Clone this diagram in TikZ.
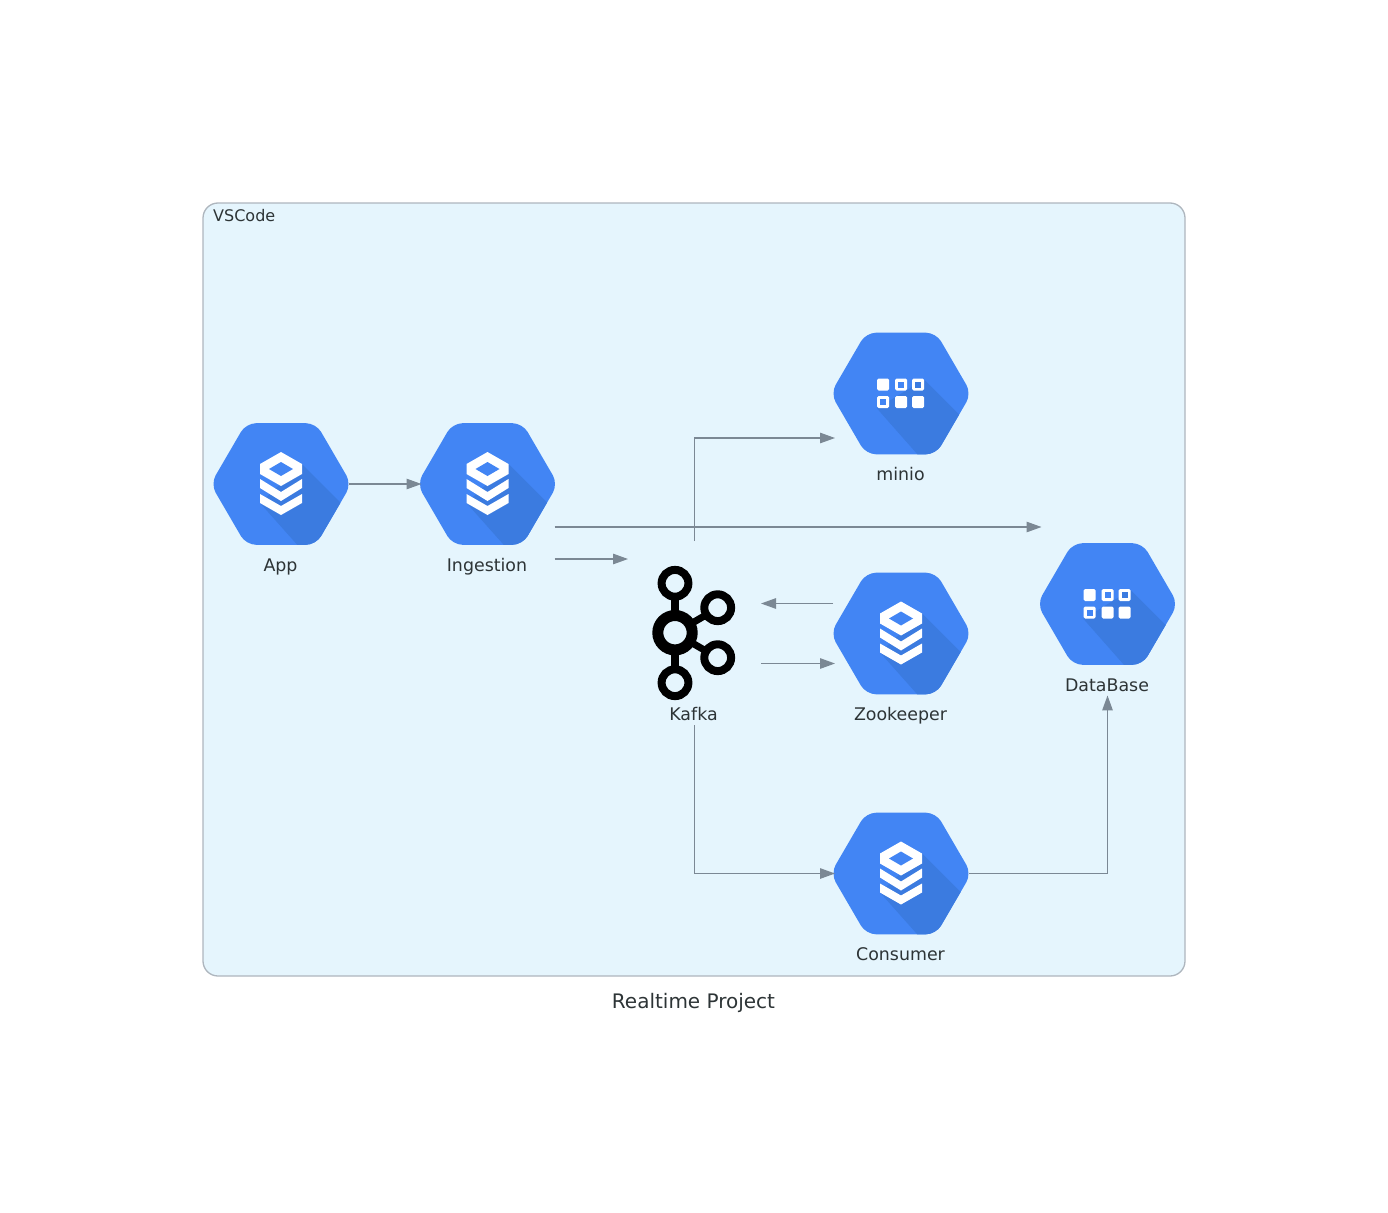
\documentclass[tikz,border=0pt]{standalone}
\usepackage{fontspec}
\setmainfont{DejaVu Sans}
\usetikzlibrary{arrows.meta, positioning}
\definecolor{gcpblue}{HTML}{4285F4}
\definecolor{gcpshade}{HTML}{3B7BE0}
\definecolor{clusterbg}{HTML}{E5F5FD}
\definecolor{clusterline}{HTML}{AEB6BE}
\definecolor{flowgray}{HTML}{7B8894}
\definecolor{labelgray}{HTML}{2D3436}

\tikzset{
  hexbox/.style={minimum width=136pt, minimum height=122pt, inner sep=0pt, outer sep=0pt},
  nodetext/.style={font=\fontsize{17.4}{20}\selectfont, text=labelgray, inner sep=0pt, anchor=base},
  flow/.style={draw=flowgray, line width=1.2pt, -{Triangle[length=15pt,width=10.5pt]}},
  kafkaring/.style={draw=black, line width=8pt},
}

% blue hexagon, its corner points
\newcommand{\hexpath}{(-70.4,0) -- (-35,-60.8) -- (35,-60.8) -- (70.4,0) -- (35,60.8) -- (-35,60.8) -- cycle}

% stack glyph, with its shadow
\newcommand{\stackglyph}{%
  \begin{scope}
    \clip[rounded corners=10pt] \hexpath;
    \fill[gcpshade] (21,-20) -- (80,39) -- (36,83) -- (-21,19) -- cycle;
  \end{scope}
  \fill[white] (0,-32) -- (21,-20) -- (21,-10) -- (0,2) -- (-21,-10) -- (-21,-20) -- cycle;
  \fill[gcpblue] (0,-22) -- (12,-15) -- (0,-8) -- (-12,-15) -- cycle;
  \fill[white] (-21,-5) -- (0,8) -- (21,-5) -- (21,4) -- (0,17) -- (-21,4) -- cycle;
  \fill[white] (-21,10) -- (0,22) -- (21,10) -- (21,19) -- (0,31) -- (-21,19) -- cycle;
}

% grid glyph, with its shadow
\newcommand{\gridglyph}{%
  \begin{scope}
    \clip[rounded corners=10pt] \hexpath;
    \fill[gcpshade] (23,-14) -- (80,43) -- (36,83) -- (-24,15) -- cycle;
  \end{scope}
  \fill[white, rounded corners=1.5pt] (-24,-15) rectangle (-12,-3);
  \fill[white, rounded corners=1.5pt] (-6,-15) rectangle (6,-3);
  \fill[white, rounded corners=1.5pt] (11,-15) rectangle (23,-3);
  \fill[white, rounded corners=1.5pt] (-24,2.5) rectangle (-12,14.5);
  \fill[white, rounded corners=1.5pt] (-6,2.5) rectangle (6,14.5);
  \fill[white, rounded corners=1.5pt] (11,2.5) rectangle (23,14.5);
  \fill[gcpblue] (-3,-12) rectangle (3,-6);
  \fill[gcpshade] (14,-12) rectangle (20,-6);
  \fill[gcpblue] (-21,5.5) rectangle (-15,11.5);
}

% #1 name, #2 position, #3 text, #4 glyph
\newcommand{\hexnode}[4]{%
  \node[hexbox] (#1) at (#2) {};
  \begin{scope}[shift={(#2)}]
    \fill[gcpblue, rounded corners=10pt] \hexpath;
    #4
    \node[nodetext] (#1text) at (-0.5,87) {#3};
  \end{scope}
}

\begin{document}
\begin{tikzpicture}[x=1pt, y=-1pt]
  \useasboundingbox (0,0) rectangle (1388,1212);

  % VSCode cluster
  \draw[clusterline, fill=clusterbg, line width=1.3pt, rounded corners=15pt]
    (203,203) rectangle (1185,976);
  \node[nodetext, anchor=base west, font=\fontsize{16}{19}\selectfont] (vscode) at (213,221) {VSCode};
  \node[nodetext, font=\fontsize{20}{24}\selectfont] (title) at (693.5,1008.5) {Realtime Project};

  % Hexagon nodes
  \hexnode{app}{281,484}{App}{\stackglyph}
  \hexnode{ingestion}{487.5,484}{Ingestion}{\stackglyph}
  \hexnode{minio}{901,393.5}{minio}{\gridglyph}
  \hexnode{zookeeper}{901,633.5}{Zookeeper}{\stackglyph}
  \hexnode{consumer}{901,873.5}{Consumer}{\stackglyph}
  \hexnode{database}{1107.5,604}{DataBase}{\gridglyph}

  % Kafka node
  \node[minimum width=133pt, minimum height=184pt, inner sep=0pt, outer sep=0pt] (kafka) at (694.5,633) {};
  \node[nodetext] (kafkatext) at (693.5,720) {Kafka};
  \draw[black, line width=8pt] (675,583) -- (675,683);
  \draw[black, line width=7pt] (675,633) -- (718,608);
  \draw[black, line width=7pt] (675,633) -- (718,658);
  \draw[kafkaring, fill=clusterbg] (675,583.3) circle (13.4);
  \draw[kafkaring, fill=clusterbg] (675,682.7) circle (13.4);
  \draw[kafkaring, fill=clusterbg] (717.7,607.7) circle (13.4);
  \draw[kafkaring, fill=clusterbg] (717.7,657.7) circle (13.4);
  \draw[kafkaring, fill=clusterbg, line width=11pt] (675,632.7) circle (17.2);

  % Connector end points
  \coordinate (ingestkafka) at ([yshift=-75pt,xshift=-1pt]ingestion.east);
  \coordinate (ingestdb) at ([yshift=-43pt,xshift=-1pt]ingestion.east);
  \coordinate (miniohook) at ([yshift=-44.5pt,xshift=2pt]minio.west);
  \coordinate (zookout) at ([yshift=30pt]zookeeper.west);
  \coordinate (zookin) at ([yshift=-30pt,xshift=2pt]zookeeper.west);
  \coordinate (consumerin) at ([xshift=2pt]consumer.west);

  % Connectors
  \draw[flow] (app.east) -- ([xshift=2pt]ingestion.west);
  \draw[flow] (ingestkafka) -- (ingestkafka -| kafka.west);
  \draw[flow] (ingestdb) -- ([xshift=2pt]ingestdb -| database.west);
  \draw[flow] (kafka.north) |- (miniohook);
  \draw[flow] (zookout) -- (zookout -| kafka.east);
  \draw[flow] (kafka.east |- zookin) -- (zookin);
  \draw[flow] (kafka.south) |- (consumerin);
  \draw[flow] (consumer.east) -| ([xshift=0.5pt,yshift=-4pt]databasetext.south);
\end{tikzpicture}
\end{document}
